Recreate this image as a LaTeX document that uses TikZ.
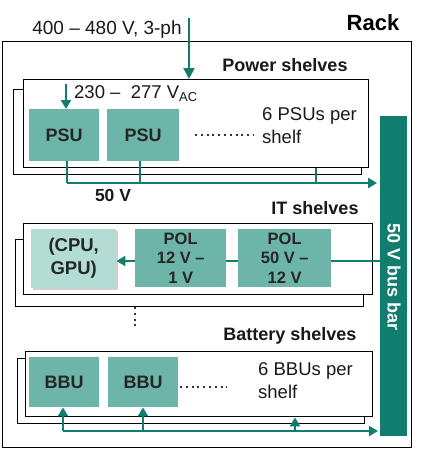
\documentclass[tikz,border=0pt]{standalone}
\usepackage{fontspec}
\setmainfont{Liberation Sans}
\usetikzlibrary{arrows.meta,shadows}
\definecolor{tealdark}{HTML}{117D6F}
\definecolor{psufill}{HTML}{6DB4A9}
\definecolor{cpufill}{HTML}{B3DCD5}
\begin{document}
\begin{tikzpicture}[x=1pt,y=-1pt,
 box/.style={draw=black,line width=1.4pt,fill=white,inner sep=0,anchor=north west},
 unit/.style={fill=psufill,draw=none,inner sep=0,anchor=north west,align=center,text=black!85,font=\bfseries\fontsize{16.5}{19.5}\selectfont},
 bigunit/.style={unit,font=\bfseries\fontsize{18}{21}\selectfont},
 wire/.style={draw=tealdark,line width=2pt},
 arr/.style={wire,-{Triangle[width=10pt,length=9pt]}},
 bigarr/.style={wire,-{Triangle[width=11pt,length=11pt]}},
 lbl/.style={inner sep=0,font=\bfseries\fontsize{18}{21}\selectfont,text=black!90},
 txt/.style={inner sep=0,align=left,font=\fontsize{18.5}{23}\selectfont,text=black!90},
 dotline/.style={draw=black!80,line width=2pt,dash pattern=on 2pt off 3.8pt}]
\useasboundingbox (0,0) rectangle (421,450);
% rack
\node[box,minimum width=409pt,minimum height=406pt] (rack) at (2,41) {};
\node[inner sep=0,font=\bfseries\fontsize{22}{26}\selectfont] (racklbl) at (373,23) {Rack};
\node[txt,font=\fontsize{19}{23}\selectfont] (inlbl) at (107,30) {400 -- 480 V, 3-ph};
% power shelves
\node[lbl] (pslbl) at (285,65) {Power shelves};
\node[box,minimum width=348pt,minimum height=85pt] (pback) at (13,89) {};
\node[box,minimum width=345pt,minimum height=88pt] (pfront) at (23,79) {};
\node[bigunit,minimum width=70pt,minimum height=52pt] (psu1) at (29,109) {PSU};
\node[bigunit,minimum width=72pt,minimum height=52pt] (psu2) at (107,109) {PSU};
\node[txt,anchor=west] (aclbl) at (74,94) {230 --\ \ 277 V\textsubscript{AC}};
\node[txt,anchor=west] (psutxt) at (262,125.5) {6 PSUs per\\shelf};
\coordinate (pd1) at (195,135);
\coordinate (pd2) at (254,135);
\draw[dotline] (pd1) -- (pd2);
% bus bar
\node[fill=tealdark,draw=none,inner sep=0,anchor=north west,minimum width=27pt,minimum height=320pt] (bus) at (380,116) {};
\node[lbl,text=white,rotate=-90] (buslbl) at (394,277) {50 V bus bar};
% input arrows
\coordinate (acin) at (189,18);
\draw[bigarr] (acin) -- (acin |- pfront.north);
\coordinate (psuin) at (66,84);
\draw[arr] (psuin) -- (psuin |- psu1.north);
% 50 V line
\coordinate (d1) at (67,183);
\coordinate (d2) at (140,183);
\coordinate (d3) at (316,183);
\coordinate (e1) at (377,183);
\draw[wire] (d1 |- psu1.south) -- (d1);
\draw[wire] (d2 |- psu2.south) -- (d2);
\draw[wire] (d3 |- pfront.south) -- (d3);
\draw[arr] (d1) -- (e1);
\node[lbl,font=\bfseries\fontsize{17.5}{21}\selectfont] (v50) at (113,195) {50 V};
% IT shelves
\node[lbl] (itlbl) at (315,208) {IT shelves};
\node[box,minimum width=348pt,minimum height=67pt] (itback) at (15,239) {};
\node[box,minimum width=349pt,minimum height=71pt] (itfront) at (23,223) {};
\node[unit,fill=cpufill,minimum width=85pt,minimum height=59pt,font=\bfseries\fontsize{18.5}{23}\selectfont,drop shadow={shadow xshift=2pt,shadow yshift=-2pt,opacity=0.3,fill=black!60}] (cpu) at (31,229) {(CPU,\\GPU)};
\node[unit,minimum width=91pt,minimum height=58pt] (pol1) at (135,229) {POL\\12 V --\\1 V};
\node[unit,minimum width=93pt,minimum height=58pt] (pol2) at (238,229) {POL\\50 V --\\12 V};
\coordinate (it) at (380,261);
\draw[wire] (it) -- (it -| pol2.east);
\draw[wire] (it -| pol2.west) -- (it -| pol1.east);
\draw[arr] (it -| pol1.west) -- (it -| cpu.east);
\coordinate (vd1) at (135,307);
\coordinate (vd2) at (135,328);
\draw[dotline] (vd1) -- (vd2);
% battery shelves
\node[lbl] (btlbl) at (290,336) {Battery shelves};
\node[box,minimum width=347pt,minimum height=65pt] (bback) at (17,358) {};
\node[box,minimum width=347pt,minimum height=65pt] (bfront) at (25,351) {};
\node[bigunit,minimum width=70pt,minimum height=50pt] (bbu1) at (29,357) {BBU};
\node[bigunit,minimum width=70pt,minimum height=50pt] (bbu2) at (108,357) {BBU};
\coordinate (bd1) at (180,387);
\coordinate (bd2) at (227,387);
\draw[dotline] (bd1) -- (bd2);
\node[txt,anchor=west] (bbutxt) at (258,381) {6 BBUs per\\shelf};
\coordinate (b1) at (63,431);
\coordinate (b2) at (143,431);
\coordinate (b3) at (295,431);
\coordinate (e2) at (378,431);
\draw[arr] (b1) -- (e2);
\draw[arr] (b1) -- (b1 |- bbu1.south);
\draw[arr] (b2) -- (b2 |- bbu2.south);
\draw[arr] (b3) -- (b3 |- bfront.south);
\end{tikzpicture}
\end{document}
